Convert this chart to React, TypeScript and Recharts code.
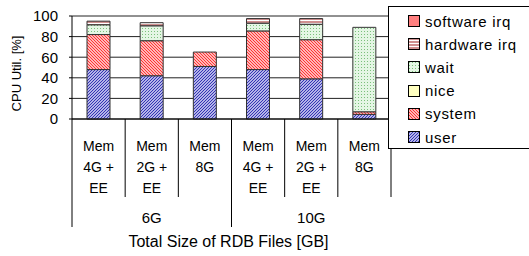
import React from "react";
import { BarChart, Bar, XAxis, YAxis, CartesianGrid, Label } from "recharts";

// categories (multi-line tick labels) and their groups
const categories = [
  ["Mem", "4G +", "EE"],
  ["Mem", "2G +", "EE"],
  ["Mem", "8G"],
  ["Mem", "4G +", "EE"],
  ["Mem", "2G +", "EE"],
  ["Mem", "8G"],
];
const groups = ["6G", "10G"];
const yTicks = [0, 20, 40, 60, 80, 100];

// CPU utilisation per category [%]
const user = [48, 42, 51, 48, 39, 4.5];
const system = [34, 34, 14, 37.5, 38, 2.5];
const nice = [0, 0, 0, 0, 0, 0];
const wait = [9.5, 14.5, 0, 7.5, 15, 82];
const hardwareIrq = [3.5, 3, 0, 4.5, 5.5, 0];
const softwareIrq = [0, 0, 0, 0, 0, 0];

const series = [
  { key: "user", name: "user", fill: "url(#pUser)" },
  { key: "system", name: "system", fill: "url(#pSystem)" },
  { key: "nice", name: "nice", fill: "#ffffc0" },
  { key: "wait", name: "wait", fill: "url(#pWait)" },
  { key: "hardwareIrq", name: "hardware irq", fill: "url(#pHw)" },
  { key: "softwareIrq", name: "software irq", fill: "#ff7f7f" },
];

const data = categories.map((c, i) => ({
  name: c.join(" ") + "-" + i,
  user: user[i],
  system: system[i],
  nice: nice[i],
  wait: wait[i],
  hardwareIrq: hardwareIrq[i],
  softwareIrq: softwareIrq[i],
}));

const W = 529;
const H = 256;
const PLOT_LEFT = 72;
const PLOT_RIGHT = 391;
const PLOT_TOP = 16;
const PLOT_BOTTOM = 119;
const BAND = (PLOT_RIGHT - PLOT_LEFT) / categories.length;
const FONT = "'Liberation Sans', Arial, sans-serif";

const CategoryTick = (props: any) => {
  const { x, index } = props;
  const half = BAND / 2;
  const lines = categories[index];
  const groupStart = index % 3 === 0;
  return (
    <g>
      <line x1={x - half} x2={x - half} y1={PLOT_BOTTOM} y2={groupStart ? 227 : 197} stroke="#000" />
      {index === categories.length - 1 && (
        <line x1={x + half} x2={x + half} y1={PLOT_BOTTOM} y2={197} stroke="#000" />
      )}
      <text textAnchor="middle" fontSize={14} fill="#000" fontFamily={FONT}>
        {lines.map((l, i) => (
          <tspan key={i} x={x} y={150.5 + i * 21.3}>
            {l}
          </tspan>
        ))}
      </text>
      {index % 3 === 1 && (
        <text x={x} y={223} textAnchor="middle" fontSize={15} fill="#000" fontFamily={FONT}>
          {groups[Math.floor(index / 3)]}
        </text>
      )}
    </g>
  );
};

const LegendBox = () => (
  <div
    style={{
      position: "absolute",
      left: 388,
      top: 6,
      width: 145,
      height: 141,
      border: "1px solid #000",
      background: "#fff",
      fontFamily: FONT,
      fontSize: 15,
    }}
  >
    {[...series].reverse().map((s, i) => (
      <div
        key={s.key}
        style={{ position: "absolute", left: 19, top: 6 + i * 23.2, height: 16, display: "flex", alignItems: "center" }}
      >
        <svg width={12} height={12} style={{ display: "block" }}>
          <rect x={0.5} y={0.5} width={11} height={11} fill={s.fill} stroke="#000" />
        </svg>
        <span style={{ marginLeft: 5, letterSpacing: 0.7 }}>{s.name}</span>
      </div>
    ))}
  </div>
);

export default function App() {
  return (
    <div style={{ position: "absolute", left: 0, top: 0, width: W, height: H, overflow: "hidden", background: "#fff" }}>
      <BarChart
        width={W}
        height={H}
        data={data}
        margin={{ top: PLOT_TOP, right: W - PLOT_RIGHT, bottom: 0, left: 0 }}
        barSize={23}
      >
        <defs>
          <pattern id="pUser" width="3" height="3" patternUnits="userSpaceOnUse">
            <rect width="3" height="3" fill="#ececff" />
            <path d="M0,3 L3,0 M-1,1 L1,-1 M2,4 L4,2" stroke="#2a2ab0" strokeWidth="1.1" />
          </pattern>
          <pattern id="pSystem" width="3" height="3" patternUnits="userSpaceOnUse">
            <rect width="3" height="3" fill="#fff0f0" />
            <path d="M0,0 L3,3 M-1,2 L1,4 M2,-1 L4,1" stroke="#ff2a2a" strokeWidth="1.1" />
          </pattern>
          <pattern id="pWait" width="3" height="3" patternUnits="userSpaceOnUse">
            <rect width="3" height="3" fill="#e4f6e4" />
            <rect x="1" y="1" width="1" height="1" fill="#7cc07c" />
          </pattern>
          <pattern id="pHw" width="3" height="3" patternUnits="userSpaceOnUse">
            <rect width="3" height="3" fill="#fff" />
            <rect y="0" width="3" height="2" fill="#d09090" />
          </pattern>
        </defs>
        <CartesianGrid vertical={false} stroke="#222" />
        <XAxis
          dataKey="name"
          type="category"
          height={H - PLOT_BOTTOM}
          interval={0}
          tickLine={false}
          axisLine={{ stroke: "#000" }}
          tick={<CategoryTick />}
        >
          <Label
            content={(p: any) => (
              <text
                x={p.viewBox.x + p.viewBox.width / 2 - 3}
                y={247}
                textAnchor="middle"
                fontSize={16}
                fill="#000"
                fontFamily={FONT}
              >
                Total Size of RDB Files [GB]
              </text>
            )}
          />
        </XAxis>
        <YAxis
          width={PLOT_LEFT}
          domain={[0, 100]}
          ticks={yTicks}
          interval={0}
          tickSize={3}
          tickMargin={11}
          axisLine={{ stroke: "#000" }}
          tickLine={{ stroke: "#000" }}
          tick={{ fontSize: 15, fill: "#000", fontFamily: FONT }}
        >
          <Label
            content={(p: any) => {
              const cx = 16;
              const cy = p.viewBox.y + p.viewBox.height / 2 + 6;
              return (
                <text
                  x={cx}
                  y={cy}
                  transform={`rotate(-90 ${cx} ${cy})`}
                  textAnchor="middle"
                  dominantBaseline="central"
                  fontSize={13}
                  fill="#000"
                  fontFamily={FONT}
                >
                  CPU Util. [%]
                </text>
              );
            }}
          />
        </YAxis>
        {series.map((s) => (
          <Bar
            key={s.key}
            dataKey={s.key}
            name={s.name}
            stackId="cpu"
            fill={s.fill}
            stroke="#333"
            strokeWidth={1}
            isAnimationActive={false}
          />
        ))}
      </BarChart>
      <LegendBox />
    </div>
  );
}
